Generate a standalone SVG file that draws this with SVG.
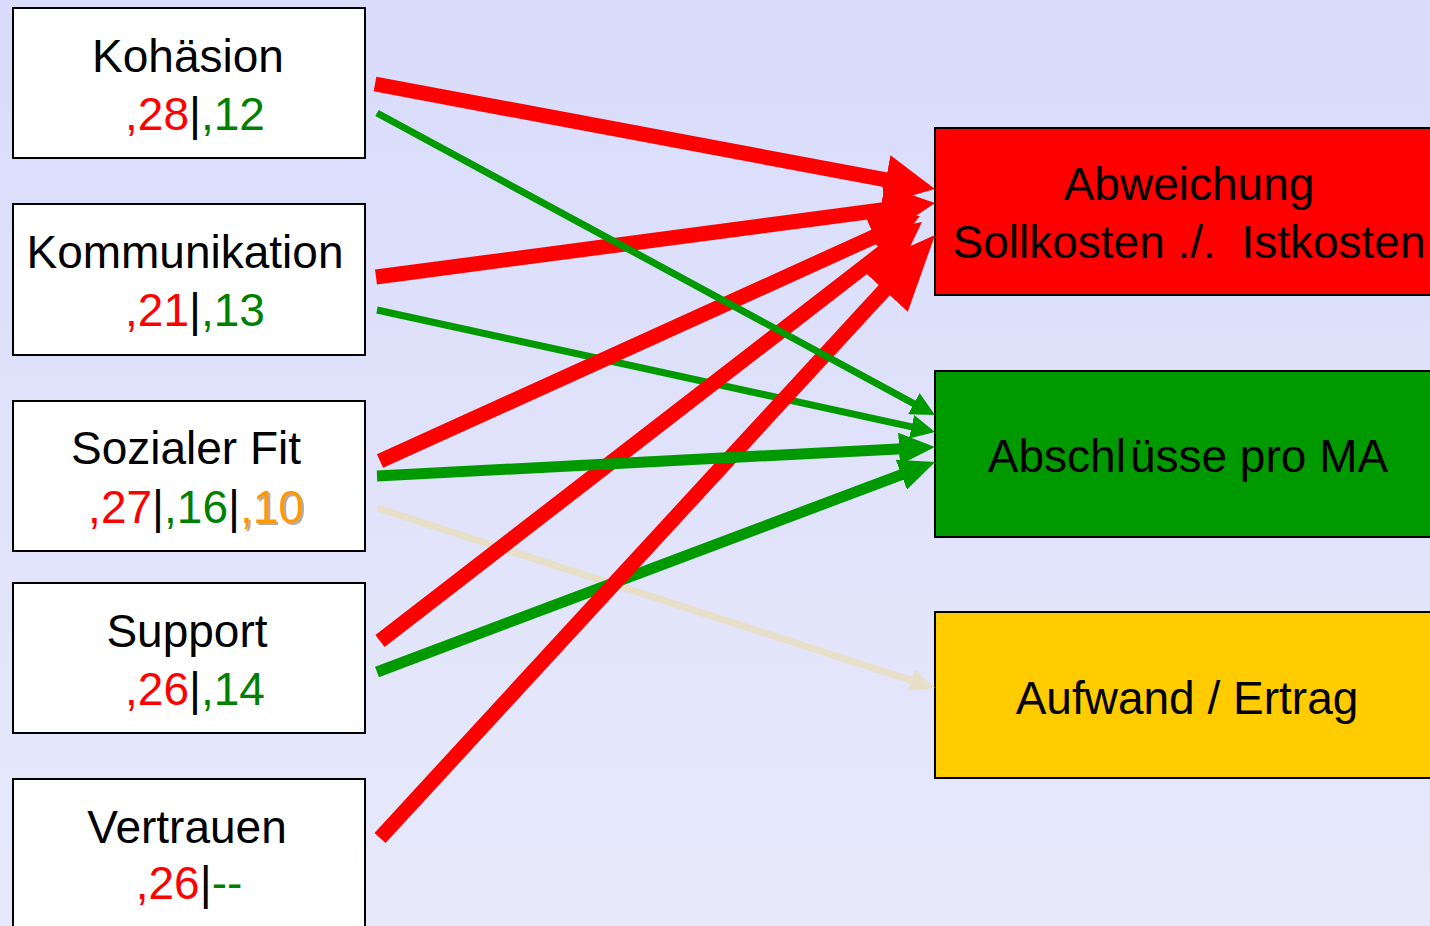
<svg xmlns="http://www.w3.org/2000/svg" width="1430" height="926" viewBox="0 0 1430 926">
  <defs>
    <linearGradient id="bg" x1="0" y1="0" x2="0" y2="1">
      <stop offset="0" stop-color="#D9DCFA"/>
      <stop offset="1" stop-color="#E7E9FA"/>
    </linearGradient>
    <!-- arrowheads: tip at x=L, refX = L - shortening of the shaft -->
    <marker id="headRed" markerUnits="userSpaceOnUse" markerWidth="50" markerHeight="50" viewBox="0 0 50 50" refX="25" refY="25" orient="auto">
      <path d="M0,0 L50,25 L0,50 z" fill="#FF0000"/>
    </marker>
    <marker id="headRedL" markerUnits="userSpaceOnUse" markerWidth="75" markerHeight="64" viewBox="0 0 75 64" refX="50" refY="32" orient="auto">
      <path d="M0,0 L75,32 L0,64 z" fill="#FF0000"/>
    </marker>
    <marker id="headGreenS" markerUnits="userSpaceOnUse" markerWidth="24" markerHeight="24" viewBox="0 0 24 24" refX="12" refY="12" orient="auto">
      <path d="M0,0 L24,12 L0,24 z" fill="#009900"/>
    </marker>
    <marker id="headGreenL" markerUnits="userSpaceOnUse" markerWidth="36" markerHeight="32" viewBox="0 0 36 32" refX="18" refY="16" orient="auto">
      <path d="M0,0 L36,16 L0,32 z" fill="#009900"/>
    </marker>
    <marker id="headBeige" markerUnits="userSpaceOnUse" markerWidth="25" markerHeight="22" viewBox="0 0 25 22" refX="13" refY="11" orient="auto">
      <path d="M0,0 L25,11 L0,22 z" fill="#E8DFC8"/>
    </marker>
    <filter id="shadow" x="-10%" y="-10%" width="130%" height="130%">
      <feDropShadow dx="2" dy="2" stdDeviation="0.6" flood-color="#999999" flood-opacity="0.8"/>
    </filter>
  </defs>
  <style>
    text { font-family: "Liberation Sans", Arial, sans-serif; font-size: 46px; fill: #000000; }
    .box { fill: #FFFFFF; stroke: #000000; stroke-width: 2; }
    .target { stroke: #000000; stroke-width: 2; }
    .r { fill: #FF0000; }
    .g { fill: #008000; }
    .o { fill: #FF9900; filter: url(#shadow); }
    .red { stroke: #FF0000; stroke-width: 15; fill: none; marker-end: url(#headRed); }
    .redL { stroke: #FF0000; stroke-width: 15; fill: none; marker-end: url(#headRedL); }
    .greenS { stroke: #009900; stroke-width: 7; fill: none; marker-end: url(#headGreenS); }
    .greenL { stroke: #009900; stroke-width: 11; fill: none; marker-end: url(#headGreenL); }
    .beige { stroke: #E8DFC8; stroke-width: 7; fill: none; marker-end: url(#headBeige); }
  </style>

  <rect x="0" y="0" width="1430" height="926" fill="url(#bg)"/>

  <!-- source factors -->
  <g id="kohaesion">
    <rect class="box" x="13" y="8" width="352" height="150"/>
    <text x="188" y="72" text-anchor="middle">Kohäsion</text>
    <text x="195" y="130" text-anchor="middle"><tspan class="r">,28</tspan>|<tspan class="g">,12</tspan></text>
  </g>
  <g id="kommunikation">
    <rect class="box" x="13" y="204" width="352" height="151"/>
    <text x="185" y="268" text-anchor="middle">Kommunikation</text>
    <text x="195" y="326" text-anchor="middle"><tspan class="r">,21</tspan>|<tspan class="g">,13</tspan></text>
  </g>
  <g id="sozialer-fit">
    <rect class="box" x="13" y="401" width="352" height="150"/>
    <text x="186" y="464" text-anchor="middle">Sozialer Fit</text>
    <text x="196" y="523" text-anchor="middle"><tspan class="r">,27</tspan>|<tspan class="g">,16</tspan>|<tspan class="o">,10</tspan></text>
  </g>
  <g id="support">
    <rect class="box" x="13" y="583" width="352" height="150"/>
    <text x="187" y="647" text-anchor="middle">Support</text>
    <text x="195" y="705" text-anchor="middle"><tspan class="r">,26</tspan>|<tspan class="g">,14</tspan></text>
  </g>
  <g id="vertrauen">
    <rect class="box" x="13" y="779" width="352" height="160"/>
    <text x="187" y="843" text-anchor="middle">Vertrauen</text>
    <text x="189" y="899" text-anchor="middle"><tspan class="r">,26</tspan>|<tspan class="g">--</tspan></text>
  </g>

  <!-- outcome measures -->
  <g id="abweichung">
    <rect class="target" x="935" y="128" width="510" height="167" fill="#FF0000"/>
    <text x="1189" y="200" text-anchor="middle">Abweichung</text>
    <text x="1189" y="258" text-anchor="middle" xml:space="preserve">Sollkosten ./.  Istkosten</text>
  </g>
  <g id="abschluesse">
    <rect class="target" x="935" y="371" width="510" height="166" fill="#009900"/>
    <text x="1188" y="472" text-anchor="middle">Abschl<tspan dx="4">üsse pro MA</tspan></text>
  </g>
  <g id="aufwand">
    <rect class="target" x="935" y="612" width="510" height="166" fill="#FFCC00"/>
    <text x="1187" y="714" text-anchor="middle">Aufwand / Ertrag</text>
  </g>

  <!-- connectors -->
  <g id="connectors">
    <line class="beige" x1="377" y1="508" x2="923.6" y2="684.3"/>
    <line class="greenL" x1="377" y1="672" x2="918.2" y2="468.3"/>
    <line class="greenS" x1="377" y1="310" x2="923.3" y2="429.4"/>
    <line class="red" x1="375" y1="84" x2="910.4" y2="184.4"/>
    <line class="red" x1="376" y1="277" x2="910.2" y2="206.3"/>
    <line class="red" x1="380" y1="461" x2="897.2" y2="226.3"/>
    <line class="red" x1="380" y1="641" x2="902.2" y2="237.3"/>
    <line class="redL" x1="380" y1="838" x2="918.1" y2="253.4"/>
    <line class="greenS" x1="377" y1="113" x2="924.4" y2="409.3"/>
    <line class="greenL" x1="377" y1="476" x2="917" y2="447.9"/>
  </g>
</svg>
